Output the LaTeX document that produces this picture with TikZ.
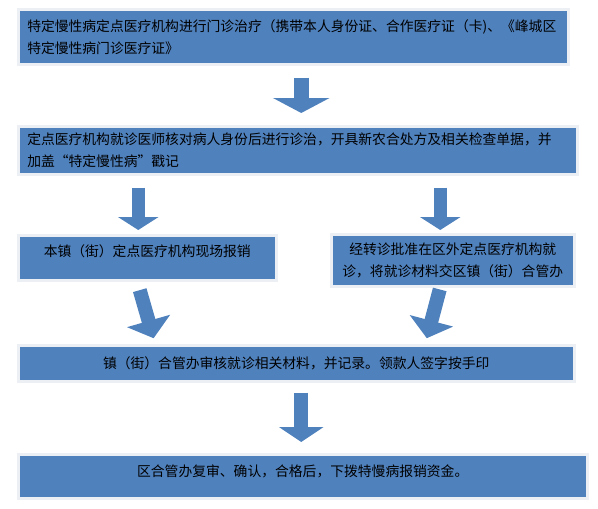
\documentclass[tikz,border=0pt]{standalone}
\usepackage{fontspec}
\newfontfamily\cjk{Noto Sans CJK SC}
\usetikzlibrary{arrows.meta,positioning,calc}
\definecolor{boxblue}{RGB}{79,129,189}
\definecolor{halo}{RGB}{236,240,245}

\begin{document}
\begin{tikzpicture}[x=1pt,y=-1pt,
    stage/.style={draw=halo,line width=2.5pt,fill=boxblue,text=black,inner xsep=9pt,inner ysep=0pt,
      font=\cjk\fontsize{13.8}{22}\selectfont,anchor=north west},
    bigarrow/.style={draw=boxblue,line width=14pt,-{Triangle[width=44pt,length=15pt]}}
  ]
    \useasboundingbox (0,0) rectangle (598,509);
    \node[stage,text width=532pt,align=left,minimum height=55pt] (visit) at (17,8)
      {特定慢性病定点医疗机构进行门诊治疗（携带本人身份证、合作医疗证（卡)、《峰城区\\特定慢性病门诊医疗证》};
    \node[stage,text width=541pt,align=left,minimum height=48pt] (doctor) at (17,125)
      {定点医疗机构就诊医师核对病人身份后进行诊治，开具新农合处方及相关检查单据，并\\加盖“特定慢性病”戳记};
    \node[stage,text width=240pt,align=center,minimum height=45pt,text depth=15pt] (local) at (17,234)
      {本镇（街）定点医疗机构现场报销};
    \node[stage,text width=225pt,align=center,minimum height=52pt] (transfer) at (330,233)
      {经转诊批准在区外定点医疗机构就\\诊，将就诊材料交区镇（街）合管办};
    \node[stage,text width=538pt,align=center,minimum height=36pt] (town) at (17,344)
      {镇（街）合管办审核就诊相关材料，并记录。领款人签字按手印};
    \node[stage,text width=551pt,align=center,minimum height=44pt,text depth=11pt] (district) at (17,453)
      {区合管办复审、确认，合格后，下拨特慢病报销资金。};
    \draw[bigarrow,line width=15pt,-{Triangle[width=56pt,length=15pt]},shorten <=12pt,shorten >=12pt]
      ([xshift=8pt]visit.south) -- ([xshift=3.5pt]doctor.north);
    \draw[bigarrow,line width=13pt,-{Triangle[width=40pt,length=13pt]},shorten <=12pt,shorten >=4pt]
      ([xshift=-159.5pt]doctor.south) -- ([xshift=-9pt]local.north);
    \draw[bigarrow,line width=13pt,-{Triangle[width=40pt,length=13pt]},shorten <=12pt,shorten >=3pt]
      ([xshift=142.5pt]doctor.south) -- ([xshift=-12.5pt]transfer.north);
    \draw[bigarrow,-{Triangle[width=44pt,length=18pt]},shorten <=9pt,shorten >=6pt]
      ([xshift=-10pt]local.south) -- ([xshift=-141pt]town.north);
    \draw[bigarrow,-{Triangle[width=44pt,length=18pt]},shorten <=2pt,shorten >=6pt]
      ([xshift=-12.5pt]transfer.south) -- ([xshift=129pt]town.north);
    \draw[bigarrow,shorten <=10pt,shorten >=11pt]
      ([xshift=5pt]town.south) -- ([xshift=-1.5pt]district.north);
  \end{tikzpicture}
\end{document}
